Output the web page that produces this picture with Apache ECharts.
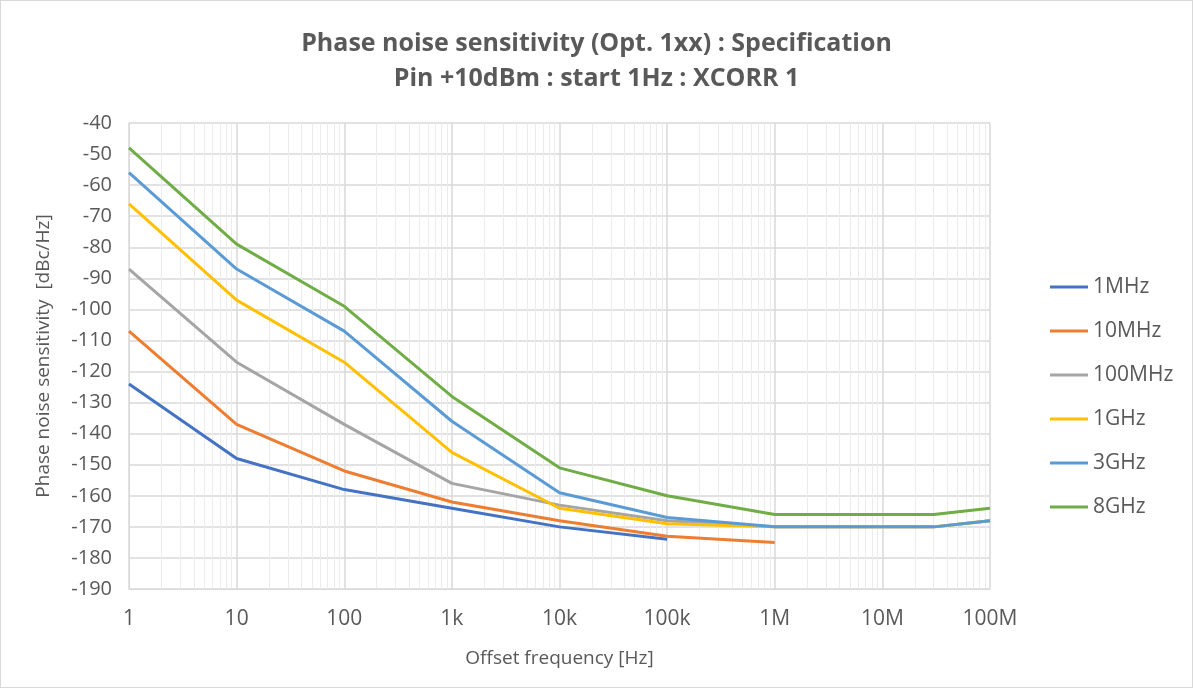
<!DOCTYPE html>
<html><head><meta charset="utf-8">
<script src="https://cdn.jsdelivr.net/npm/echarts@6/dist/echarts.min.js"></script>
<style>
html,body{margin:0;padding:0;background:#fff;}
#c{width:1191px;height:686px;border:1px solid #d9d9d9;}
</style></head>
<body><div id="c"></div>
<script>
const freqs = [1, 10, 100, 1e3, 1e4, 1e5, 1e6, 3e7, 1e8];
const seriesNames = ['1MHz', '10MHz', '100MHz', '1GHz', '3GHz', '8GHz'];
const s1MHz   = [-124, -148, -158, -164, -170, -174, null, null, null];
const s10MHz  = [-107, -137, -152, -162, -168, -173, -175, null, null];
const s100MHz = [-87, -117, -137, -156, -163, -168, -170, -170, -168];
const s1GHz   = [-66, -97, -117, -146, -164, -169, -170, -170, -168];
const s3GHz   = [-56, -87, -107, -136, -159, -167, -170, -170, -168];
const s8GHz   = [-48, -79, -99, -128, -151, -160, -166, -166, -164];
const xTickLabels = {1:'1',10:'10',100:'100',1000:'1k',10000:'10k',100000:'100k',1000000:'1M',10000000:'10M',100000000:'100M'};
const colors = ['#4472C4', '#ED7D31', '#A5A5A5', '#FFC000', '#5B9BD5', '#70AD47'];
const allValues = [s1MHz, s10MHz, s100MHz, s1GHz, s3GHz, s8GHz];

const font = 'Open Sans, Noto Sans, sans-serif';
const chart = echarts.init(document.getElementById('c'));
chart.setOption({
  animation: false,
  title: {
    text: 'Phase noise sensitivity (Opt. 1xx) : Specification\nPin +10dBm : start 1Hz : XCORR 1',
    left: 'center', top: 20,
    textStyle: {fontFamily: font, fontWeight: 'bold', fontSize: 25, color: '#595959', lineHeight: 35}
  },
  grid: {left: 128, right: 202, top: 122, bottom: 98, containLabel: false},
  legend: {
    orient: 'vertical', left: 1044, top: 268,
    itemWidth: 38, itemHeight: 3, itemGap: 18, icon: 'rect',
    textStyle: {fontFamily: font, fontSize: 21, color: '#595959', lineHeight: 26},
    data: seriesNames
  },
  xAxis: {
    type: 'log', logBase: 10, min: 1, max: 1e8, splitNumber: 8,
    name: 'Offset frequency [Hz]', nameLocation: 'middle', nameGap: 60,
    nameTextStyle: {fontFamily: font, fontSize: 19, color: '#595959'},
    axisLine: {show: true, lineStyle: {color: '#d9d9d9'}},
    axisTick: {show: false},
    axisLabel: {fontFamily: font, fontSize: 21, color: '#595959', margin: 20,
      formatter: v => xTickLabels[Math.round(v)] || ''},
    splitLine: {show: true, lineStyle: {color: '#d9d9d9', width: 1.5}},
    minorTick: {show: false, splitNumber: 9},
    minorSplitLine: {show: true, lineStyle: {color: '#ececec', width: 1}}
  },
  yAxis: {
    type: 'value', min: -190, max: -40, interval: 10,
    name: 'Phase noise sensitivity  [dBc/Hz]', nameLocation: 'middle', nameGap: 76,
    nameTextStyle: {fontFamily: font, fontSize: 19, color: '#595959'},
    axisLine: {show: true, lineStyle: {color: '#d9d9d9'}},
    axisTick: {show: false},
    axisLabel: {fontFamily: font, fontSize: 20, color: '#595959', margin: 17},
    splitLine: {show: true, lineStyle: {color: '#d9d9d9', width: 1.5}}
  },
  series: seriesNames.map((n, i) => ({
    name: n, type: 'line', symbol: 'none', connectNulls: false,
    lineStyle: {width: 3, color: colors[i]}, itemStyle: {color: colors[i]},
    data: freqs.map((f, j) => allValues[i][j] == null ? null : [f, allValues[i][j]]).filter(d => d)
  }))
});
</script></body></html>
